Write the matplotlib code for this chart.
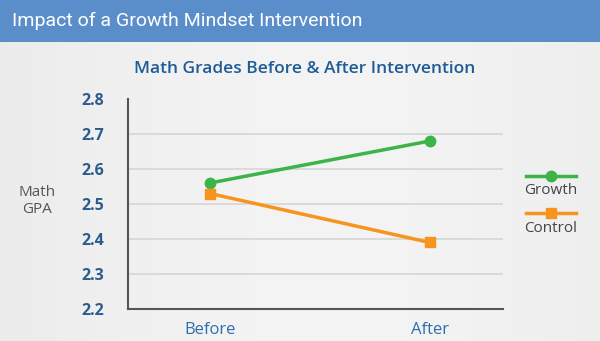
import numpy as np
import matplotlib.pyplot as plt
from matplotlib.lines import Line2D
from matplotlib.patches import Rectangle

plt.rcParams['font.family'] = ['Open Sans', 'DejaVu Sans']

# data
phases = ['Before', 'After']
growth = [2.56, 2.68]
control = [2.53, 2.39]
yticks = [2.2, 2.3, 2.4, 2.5, 2.6, 2.7, 2.8]

GREEN = '#3CB44A'
ORANGE = '#F7941D'
HEADER = '#5A8ECB'
DARKBLUE = '#1E5C97'

fig = plt.figure(figsize=(6.0, 3.41), dpi=100)

# soft grey backdrop
bg = fig.add_axes([0, 0, 1, 1])
grad = np.linspace(0, 1, 300)[None, :]
grad = 0.925 + 0.03 * np.sin(grad * np.pi * 0.9)
bg.imshow(np.dstack([grad, grad, grad]), aspect='auto', extent=[0, 1, 0, 1])
bg.set_xlim(0, 1)
bg.set_ylim(0, 1)
bg.axis('off')

# header band
fig.add_artist(Rectangle((0, 1 - 42 / 341), 1, 42 / 341, transform=fig.transFigure,
                         facecolor=HEADER, edgecolor='none'))
fig.text(12 / 600, 1 - 21 / 341, 'Impact of a Growth Mindset Intervention',
         family=['Roboto', 'DejaVu Sans'], color='white', fontsize=14,
         va='center', ha='left')

fig.text(305 / 600, 1 - 69 / 341, 'Math Grades Before & After Intervention',
         color=DARKBLUE, fontsize=12.5, fontweight='semibold', ha='center', va='center')

# plot area: 2.2 sits at y=309 px, top of the spine at y=99 px
ax = fig.add_axes([128 / 600, 32 / 341, 375 / 600, 210 / 341])
ax.patch.set_alpha(0)
x = np.arange(len(phases))
ax.plot(x, growth, color=GREEN, lw=2.5, marker='o', ms=7.5, zorder=3)
ax.plot(x, control, color=ORANGE, lw=2.5, marker='s', ms=7.5, zorder=3)

ax.set_xlim(-0.373, 1.333)
ax.set_ylim(2.2, 2.795)
ax.set_yticks(yticks)
ax.set_yticklabels([f'{v:.1f}' for v in yticks], color='#2B5C8C',
                   fontsize=11.5, fontweight='bold')
ax.set_xticks(x)
ax.set_xticklabels(phases, color='#2F6EAE', fontsize=12)
ax.tick_params(length=0)
ax.tick_params(axis='y', pad=17)
ax.tick_params(axis='x', pad=9)
for v in yticks[1:-1]:
    ax.axhline(v, color='#D6D6D6', lw=1.2, zorder=1)
for s in ['top', 'right']:
    ax.spines[s].set_visible(False)
for s in ['left', 'bottom']:
    ax.spines[s].set_color('#555555')
    ax.spines[s].set_linewidth(1.5)

fig.text(37 / 600, 1 - 201 / 341, 'Math\nGPA', color='#555555', fontsize=11,
         ha='center', va='center', linespacing=1.1)

# legend drawn by hand on the right
for yl, yt, col, mk, name in [(176, 191, GREEN, 'o', 'Growth'),
                              (213, 228, ORANGE, 's', 'Control')]:
    fig.add_artist(Line2D([526 / 600, 576 / 600], [1 - yl / 341] * 2,
                          transform=fig.transFigure, color=col, lw=2.5))
    fig.add_artist(Line2D([551 / 600], [1 - yl / 341], transform=fig.transFigure,
                          color=col, marker=mk, ms=7.5))
    fig.text(551 / 600, 1 - yt / 341, name, color='#444444', fontsize=11,
             ha='center', va='center')

fig.savefig('out.png', dpi=100)
